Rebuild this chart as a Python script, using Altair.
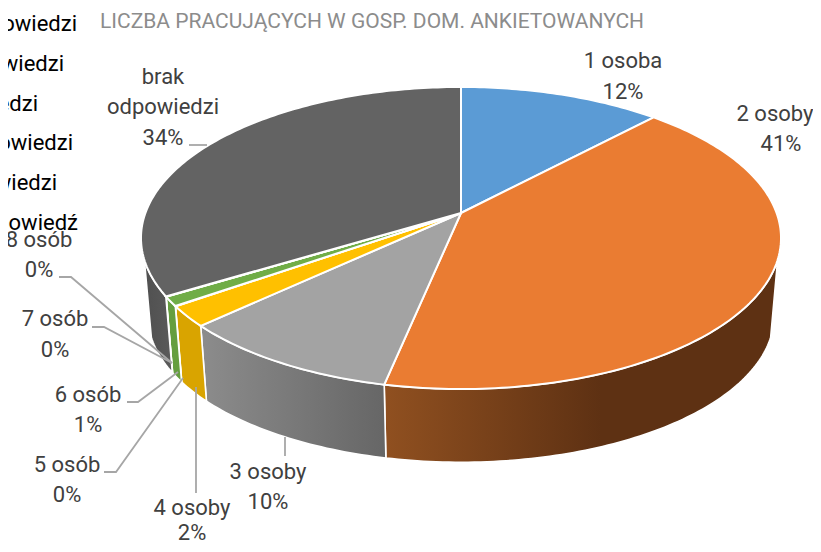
import math
import altair as alt

# ---- values ----
categories = ["1 osoba", "2 osoby", "3 osoby", "4 osoby", "5 osób", "6 osób", "7 osób", "8 osób", "brak odpowiedzi"]
shares = [12.0, 41.3, 9.8, 2.2, 0.02, 1.0, 0.02, 0.02, 33.7]
top_colors = ["#5B9BD5", "#EA7C32", "#A3A3A3", "#FFC000", "#4472C4", "#70AD47", "#255E91", "#9E480E", "#636363"]
wall_stops = [
    None,
    [(0, "#905020"), (0.55, "#5E3113"), (1, "#5E3113")],
    [(0, "#8C8C8C"), (1, "#666666")],
    [(0, "#D9A400"), (1, "#D9A400")],
    [(0, "#3A5A9A"), (1, "#3A5A9A")],
    [(0, "#659E3F"), (1, "#659E3F")],
    [(0, "#255E91"), (1, "#255E91")],
    [(0, "#9E480E"), (1, "#9E480E")],
    [(0, "#505050"), (1, "#5A5A5A")],
]

title_text = "LICZBA PRACUJĄCYCH W GOSP. DOM. ANKIETOWANYCH"
legend_lines = ["odpowiedzi", "odpowiedzi", "odpowiedzi", "odpowiedzi", "odpowiedzi", "odpowiedź"]
legend_right = [77, 64, 38, 73, 57, 78]
legend_mid = [24, 64, 104, 143, 183, 223]

label_lines = ["1 osoba", "12%", "2 osoby", "41%", "brak", "odpowiedzi", "34%", "3 osoby", "10%",
               "4 osoby", "2%", "5 osób", "0%", "6 osób", "1%", "7 osób", "0%", "8 osób", "0%"]
label_cx = [623, 623, 775, 781, 163, 163, 163, 268, 268, 192, 192, 67, 67, 88, 88, 55, 55, 39, 39]
label_cy = [61, 92, 114, 144, 77, 107, 138, 472, 502, 508, 533, 465, 495, 395, 425, 319, 350, 240, 270]

leaders = [
    [(59, 277), (71, 277), (172, 363)],
    [(92, 327), (104, 327), (172, 363)],
    [(127, 402), (138, 402), (178, 372)],
    [(104, 472), (116, 472), (183, 378)],
    [(196, 493), (196, 387)],
    [(285, 437), (285, 456)],
    [(189, 145), (207, 145)],
]

# ---- pie geometry (perspective view of the disc) ----
OX = 8
APEX = (461, 213)
BASE_APEX = (461, 292)
A, C, D = 146.9, 0.1656, 315.6
SX, SY = 0.978, 0.967
FRONT = (107.7, 252.3)


def rim(deg, base=False):
    t = math.radians(deg)
    u, v = math.sin(t), math.cos(t)
    k = 1 + C * v
    x, y = D * u / k, A * v / k
    if base:
        return [BASE_APEX[0] + SX * x - OX, BASE_APEX[1] - SY * y - OX]
    return [APEX[0] + x - OX, APEX[1] - y - OX]


def arc_degrees(a, b):
    n = max(2, int(abs(b - a)) + 2)
    return [a + (b - a) * i / (n - 1) for i in range(n)]


def polygon(points):
    return {"type": "Feature", "properties": {},
            "geometry": {"type": "Polygon", "coordinates": [points + [points[0]]]}}


def line(points):
    return {"type": "Feature", "properties": {},
            "geometry": {"type": "LineString", "coordinates": [[x - OX, y - OX] for x, y in points]}}


projection = alt.Projection(type="identity", scale=1, translate=[0, 0])
layers = []
total = sum(shares)
edges = [0.0]
for s in shares:
    edges.append(edges[-1] + 360 * s / total)


def shape(feature, **kw):
    return alt.Chart(alt.InlineData(values=[feature])).mark_geoshape(**kw).project(**projection.to_dict())


# side walls
for i, stops in enumerate(wall_stops):
    if stops is None:
        continue
    a, b = max(edges[i], FRONT[0]), min(edges[i + 1], FRONT[1])
    if b <= a:
        continue
    degs = arc_degrees(a, b)
    pts = [rim(d) for d in degs] + [rim(d, True) for d in reversed(degs)]
    fill = alt.Gradient(gradient="linear", x1=0, x2=1, y1=0, y2=0,
                        stops=[alt.GradientStop(offset=o, color=c) for o, c in stops])
    layers.append(shape(polygon(pts), fill=fill, stroke="white", strokeWidth=1.6))

# top face
for i, col in enumerate(top_colors):
    degs = arc_degrees(edges[i], edges[i + 1])
    pts = [[APEX[0] - OX, APEX[1] - OX]] + [rim(d) for d in degs]
    layers.append(shape(polygon(pts), fill=col, stroke="white", strokeWidth=2))

# leader lines
for pts in leaders:
    layers.append(shape(line(pts), filled=False, stroke="#A6A6A6", strokeWidth=1.8))

FONT = "Roboto"

labels = alt.Chart(alt.Data(values=[
    {"t": t, "x": x - OX, "y": y - OX} for t, x, y in zip(label_lines, label_cx, label_cy)
])).mark_text(font=FONT, fontSize=22, color="#404040", align="center", baseline="middle").encode(
    x=alt.X("x:Q", scale=None, axis=None), y=alt.Y("y:Q", scale=None, axis=None), text="t:N")

legend = alt.Chart(alt.Data(values=[
    {"t": t, "x": x - OX, "y": y - OX} for t, x, y in zip(legend_lines, legend_right, legend_mid)
])).mark_text(font=FONT, fontSize=22, color="#000000", align="right", baseline="middle").encode(
    x=alt.X("x:Q", scale=None, axis=None), y=alt.Y("y:Q", scale=None, axis=None), text="t:N")

title = alt.Chart(alt.Data(values=[{"t": title_text, "x": 100 - OX, "y": 22 - OX}])).mark_text(
    font=FONT, fontSize=21, color="#8C8C8C", align="left", baseline="middle").encode(
    x=alt.X("x:Q", scale=None, axis=None), y=alt.Y("y:Q", scale=None, axis=None), text="t:N")

chart = alt.layer(*layers, legend, labels, title).properties(
    width=805, height=536, padding=0,
    autosize=alt.AutoSizeParams(type="none"),
).configure_view(stroke=None)

chart.save("out.html", embed_options={"renderer": "svg", "actions": False})
